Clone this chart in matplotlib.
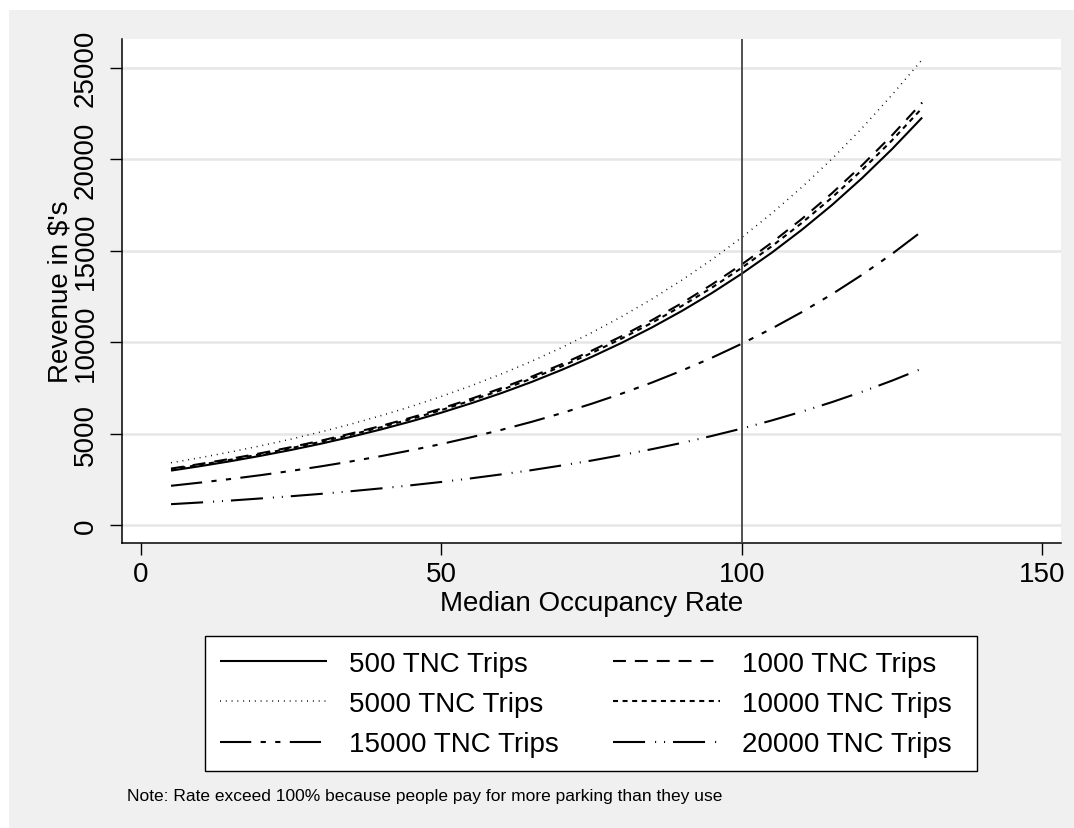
import matplotlib
matplotlib.use("Agg")
import matplotlib.pyplot as plt
from matplotlib.patches import Rectangle

plt.rcParams['font.family'] = ['Liberation Sans', 'DejaVu Sans']

occupancy = [5, 10, 15, 20, 25, 30, 35, 40, 45, 50, 55, 60, 65, 70, 75, 80,
             85, 90, 95, 100, 105, 110, 115, 120, 125, 130]

rev_500 = [2980, 3230, 3500, 3795, 4110, 4455, 4830, 5235, 5675, 6150, 6665, 7220, 7825,
           8485, 9195, 9965, 10800, 11705, 12685, 13750, 14900, 16150, 17500, 18970, 20560, 22280]
rev_1000 = [3090, 3350, 3630, 3935, 4265, 4620, 5010, 5425, 5880, 6375, 6910, 7490, 8115,
            8795, 9535, 10330, 11200, 12135, 13155, 14255, 15450, 16745, 18145, 19670, 21315, 23100]
rev_5000 = [3410, 3695, 4005, 4340, 4705, 5100, 5525, 5990, 6490, 7035, 7625, 8265, 8955,
            9705, 10520, 11400, 12355, 13390, 14515, 15730, 17050, 18480, 20025, 21705, 23525, 25450]
rev_10000 = [3050, 3305, 3580, 3880, 4210, 4560, 4945, 5355, 5805, 6290, 6820, 7390, 8010,
             8680, 9410, 10200, 11055, 11980, 12980, 14070, 15250, 16525, 17910, 19415, 21040, 22800]
rev_15000 = [2150, 2330, 2525, 2735, 2965, 3215, 3485, 3775, 4095, 4435, 4810, 5210, 5645,
             6120, 6635, 7190, 7790, 8445, 9150, 9920, 10750, 11650, 12625, 13685, 14830, 16075]
rev_20000 = [1145, 1240, 1345, 1460, 1580, 1710, 1855, 2010, 2180, 2360, 2560, 2775, 3005,
             3260, 3530, 3830, 4150, 4495, 4875, 5280, 5725, 6205, 6725, 7290, 7900, 8560]

labels = ["500 TNC Trips", "1000 TNC Trips", "5000 TNC Trips",
          "10000 TNC Trips", "15000 TNC Trips", "20000 TNC Trips"]
series = [rev_500, rev_1000, rev_5000, rev_10000, rev_15000, rev_20000]
styles = [
    dict(linestyle='-', lw=1.5),
    dict(linestyle=(0, (6.2, 4.3)), lw=1.5),
    dict(linestyle=(0, (0.6, 3.2)), lw=1.1),
    dict(linestyle=(0, (2.4, 2.2)), lw=1.5),
    dict(linestyle=(0, (15, 4.5, 2.5, 4.5, 2.5, 4.5)), lw=1.5),
    dict(linestyle=(0, (15.4, 4.8, 0.5, 3.8, 0.5, 3.8)), lw=1.5),
]

W, H = 1074, 829
fig = plt.figure(figsize=(W / 100, H / 100), dpi=100, facecolor='white')
fig.patches.append(Rectangle((9 / W, 0), 1 - 9 / W, (H - 11) / H, transform=fig.transFigure,
                             facecolor='#f0f0f0', edgecolor='none', zorder=-10))

ax = fig.add_axes([122 / W, 1 - 543.5 / H, (1061 - 122) / W, (543.5 - 39.5) / H])
ax.set_facecolor('white')

handles = []
for ys, lab, st in zip(series, labels, styles):
    h, = ax.plot(occupancy, ys, color='black', label=lab, solid_capstyle='butt', **st)
    handles.append(h)

ax.axvline(100, color='#444444', lw=1.3, zorder=3)

ax.set_xlim(-3.16, 153.1)
ax.set_ylim(-950, 26600)
ax.set_xticks([0, 50, 100, 150])
ax.set_yticks([0, 5000, 10000, 15000, 20000, 25000])
ax.yaxis.grid(True, color='#e6e6e6', lw=1.8)
ax.set_axisbelow(True)

for s in ['top', 'right']:
    ax.spines[s].set_visible(False)
for s in ['left', 'bottom']:
    ax.spines[s].set_linewidth(1.1)
    ax.spines[s].set_color('black')

ax.tick_params(axis='both', direction='out', length=8.5, width=1.0, labelsize=20, colors='black')
ax.tick_params(axis='y', pad=8)
ax.tick_params(axis='x', pad=5)
for t in ax.get_yticklabels():
    t.set_rotation(90)
    t.set_va('center')

ax.set_xlabel("Median Occupancy Rate", fontsize=20, labelpad=2)
ax.set_ylabel("Revenue in $'s", fontsize=20, labelpad=0)

# legend: row-wise order in a 2-column layout
order = [0, 2, 4, 1, 3, 5]
fig.patches.append(Rectangle((205 / W, 1 - 772 / H), (977 - 205) / W, (772 - 637) / H,
                             transform=fig.transFigure, facecolor='white',
                             edgecolor='black', lw=1.0, zorder=1))
leg = fig.legend(handles=[handles[i] for i in order], labels=[labels[i] for i in order],
                 ncol=2, loc='center', bbox_to_anchor=(586 / W, 1 - 705 / H), fontsize=20,
                 frameon=False, handlelength=3.85, handletextpad=0.8, columnspacing=1.95,
                 borderpad=0, labelspacing=0.52, borderaxespad=0)
leg.set_zorder(2)

fig.text(127 / W, 1 - 797 / H, "Note: Rate exceed 100% because people pay for more parking than they use",
         fontsize=12.5, ha='left', va='center')

fig.savefig("out.png", dpi=100, facecolor=fig.get_facecolor())
